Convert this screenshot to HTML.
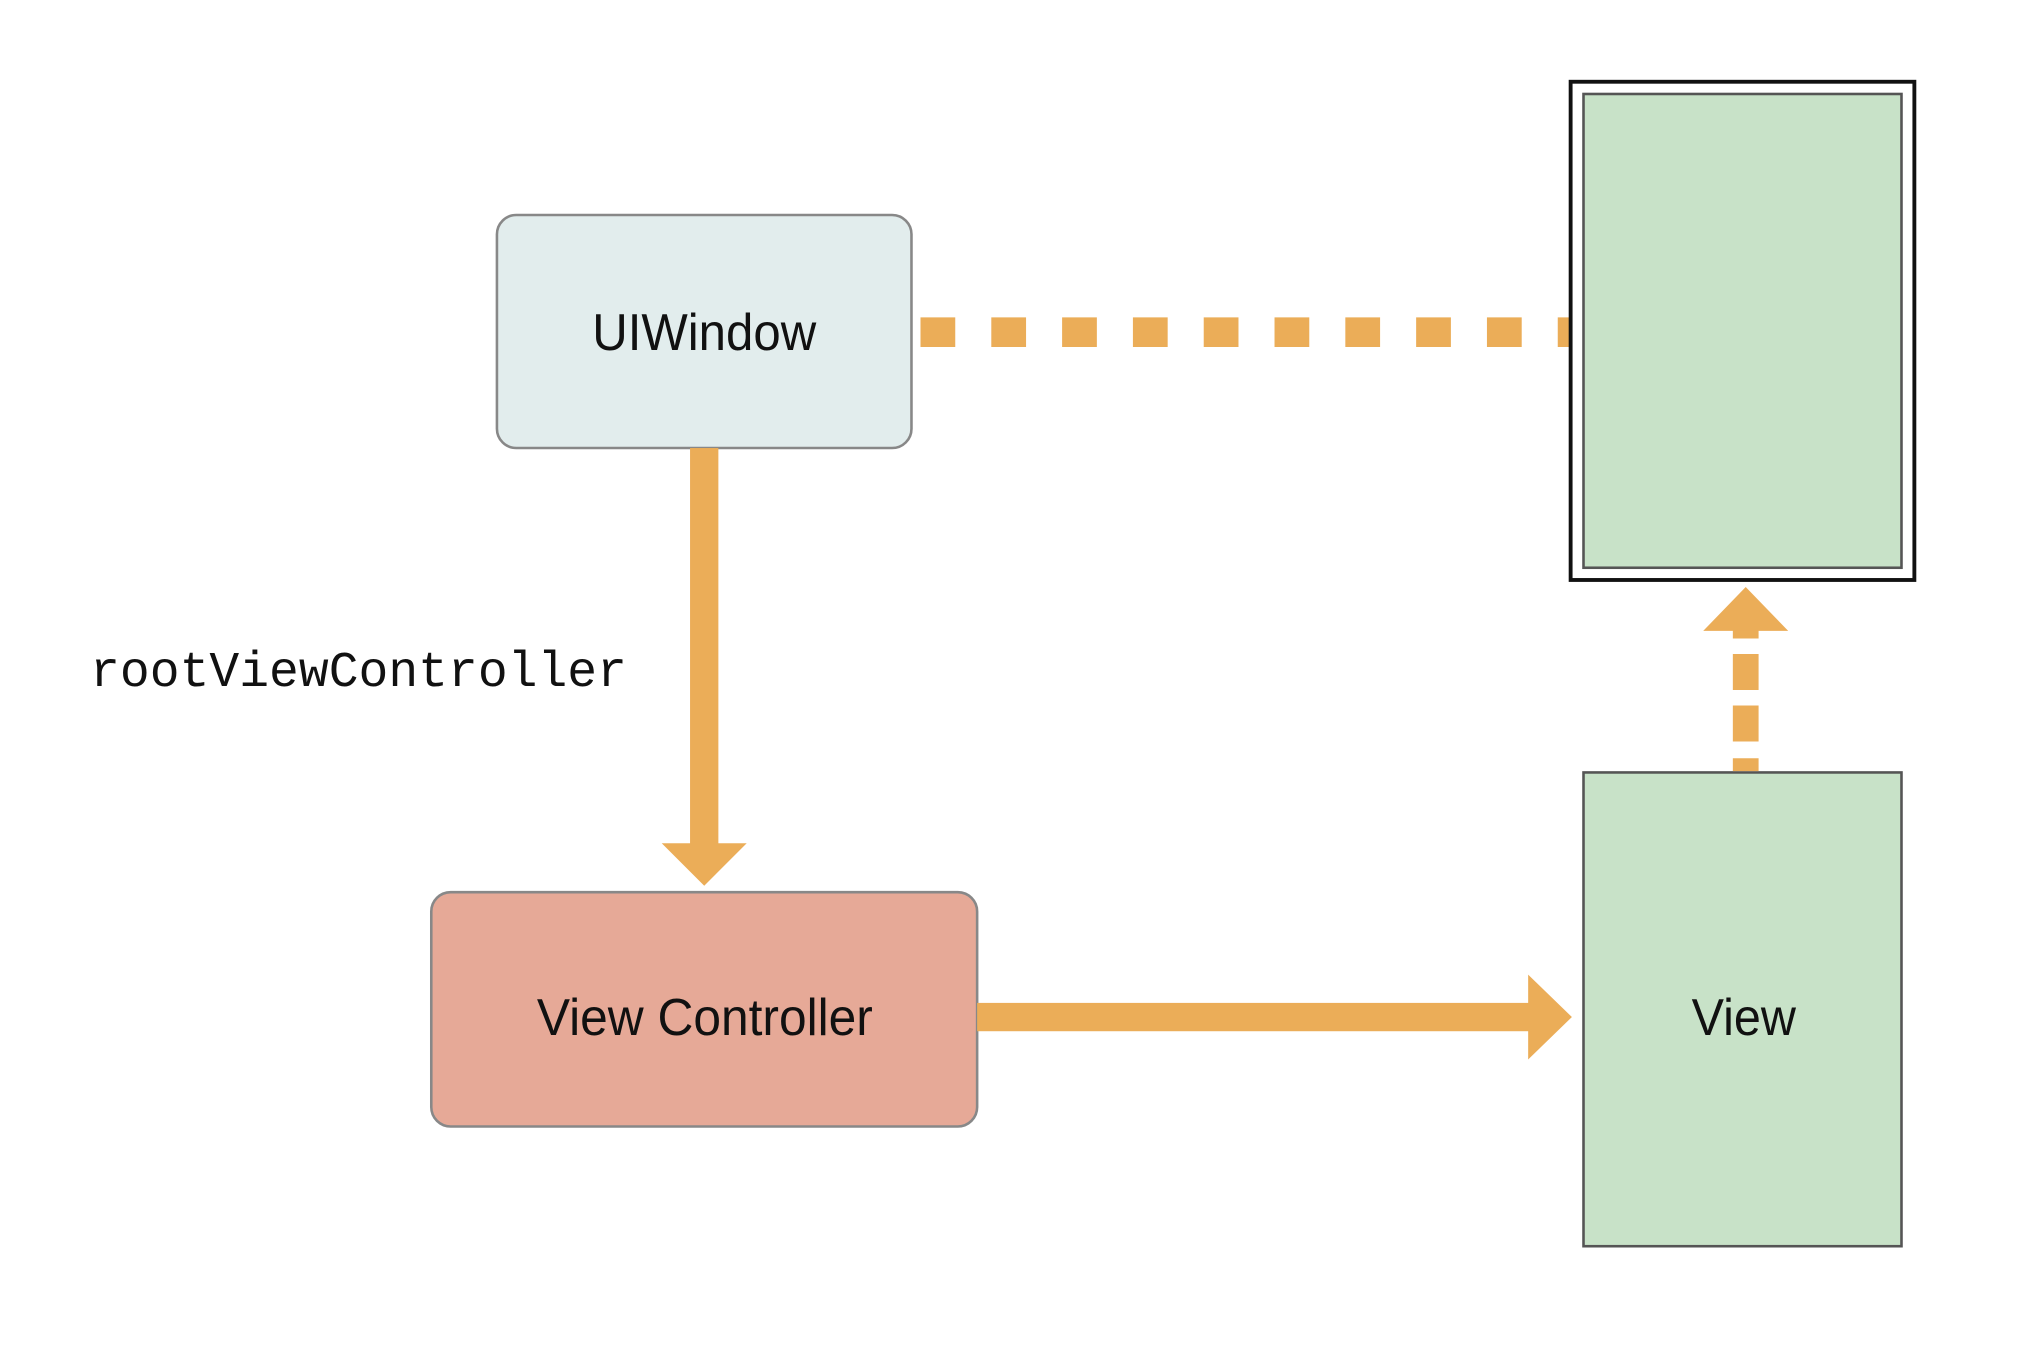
<!DOCTYPE html>
<html><head><meta charset="utf-8"><style>html,body{margin:0;padding:0;background:#fff;}svg{display:block}</style></head>
<body>
<svg width="2018" height="1372" viewBox="0 0 1567.5 1065.7" preserveAspectRatio="none" xmlns="http://www.w3.org/2000/svg">
<rect width="1568" height="1066" fill="#fff"/>
<line x1="715" y1="258" x2="1225" y2="258" stroke="#ebad58" stroke-width="23" stroke-dasharray="27 28"/>
<rect x="1220" y="63.5" width="267" height="387" fill="#fff" stroke="#111" stroke-width="3"/>
<rect x="1230" y="73" width="247" height="368" fill="#c8e2c8" stroke="#555" stroke-width="2"/>
<rect x="386" y="167" width="322" height="181" rx="15" fill="#e2eded" stroke="#888" stroke-width="2"/>
<text x="460" y="272" font-family="Liberation Sans, sans-serif" font-size="40" textLength="174" lengthAdjust="spacingAndGlyphs" fill="#111">UIWindow</text>
<rect x="536" y="348" width="22" height="308" fill="#ebad58"/>
<polygon points="514,655 580,655 547,688" fill="#ebad58"/>
<text x="70" y="533" font-family="Liberation Mono, monospace" font-size="39" textLength="417" lengthAdjust="spacingAndGlyphs" fill="#111">rootViewController</text>
<rect x="335" y="693" width="424" height="182" rx="15" fill="#e6a997" stroke="#888" stroke-width="2"/>
<text x="417" y="804" font-family="Liberation Sans, sans-serif" font-size="40" textLength="261" lengthAdjust="spacingAndGlyphs" fill="#111">View Controller</text>
<rect x="759" y="779" width="430" height="22" fill="#ebad58"/>
<polygon points="1187,757 1221,790 1187,823" fill="#ebad58"/>
<rect x="1230" y="600" width="247" height="368" fill="#c8e2c8" stroke="#555" stroke-width="2"/>
<text x="1314" y="804" font-family="Liberation Sans, sans-serif" font-size="40" textLength="81" lengthAdjust="spacingAndGlyphs" fill="#111">View</text>
<line x1="1356" y1="599" x2="1356" y2="486" stroke="#ebad58" stroke-width="20" stroke-dasharray="10 13 28 12 28 12 30"/>
<polygon points="1323,490 1389,490 1356,456" fill="#ebad58"/>
</svg>
</body></html>
